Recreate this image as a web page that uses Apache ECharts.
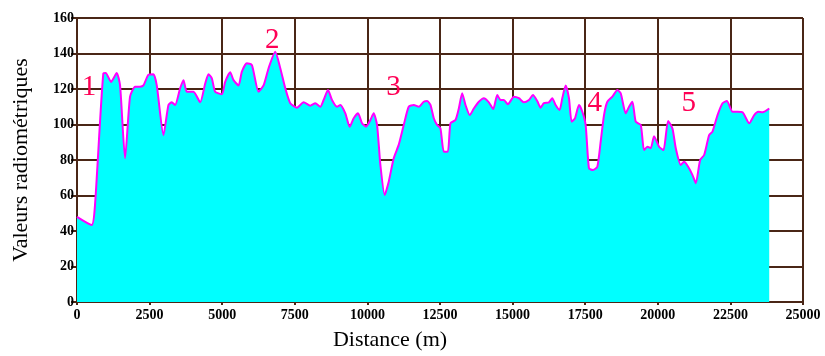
<!DOCTYPE html>
<html>
<head>
<meta charset="utf-8">
<script src="https://cdn.jsdelivr.net/npm/echarts@6/dist/echarts.min.js"></script>
<style>
  html, body { margin: 0; padding: 0; background: #fff; }
  #chart { width: 825px; height: 356px; }
</style>
</head>
<body>
<div id="chart"></div>
<script>
// distance along the profile (m)
var distances = [0, 507, 620, 907, 988, 1172, 1368, 1483, 1655, 1827, 2000, 2172, 2287, 2460, 2632, 2747,
  2977, 3149, 3264, 3379, 3551, 3666, 3781, 4011, 4241, 4413, 4528, 4643, 4758, 4988, 5103, 5275,
  5390, 5563, 5678, 5850, 6023, 6252, 6424, 6597, 6827, 7000, 7172, 7344, 7575, 7803, 8034, 8206,
  8378, 8493, 8643, 8781, 8953, 9068, 9240, 9389, 9528, 9678, 9815, 9953, 10102, 10216, 10333, 10447,
  10596, 10734, 10906, 11078, 11251, 11423, 11596, 11768, 11940, 12057, 12171, 12286, 12401, 12516, 12631, 12769,
  12861, 13033, 13148, 13263, 13378, 13527, 13665, 13838, 14010, 14182, 14333, 14471, 14585, 14700, 14838, 15045,
  15217, 15389, 15562, 15700, 15850, 15964, 16079, 16251, 16367, 16481, 16619, 16711, 16826, 16941, 17033, 17148,
  17286, 17401, 17516, 17630, 17768, 17918, 18033, 18148, 18263, 18436, 18609, 18723, 18895, 19010, 19126, 19240,
  19413, 19526, 19643, 19757, 19871, 20044, 20195, 20354, 20505, 20619, 20791, 20906, 21045, 21195, 21309, 21458,
  21596, 21768, 21884, 22057, 22229, 22378, 22574, 22746, 22919, 23148, 23320, 23458, 23609, 23837];
// radiometric values
var values = [48, 43.4, 54.6, 128.8, 129, 124, 129, 122, 81, 115.7, 121.3, 121.3, 122, 128, 128.3, 122,
  94, 111, 112.5, 111, 120.4, 125, 118.5, 118.5, 112.5, 123, 128.3, 126, 118.5, 117, 124, 129.4,
  125, 122, 129.8, 134.5, 133.5, 118.5, 122, 131.7, 141, 131.7, 120.4, 112, 109.5, 112.5, 110.6, 112,
  110, 113.8, 119.4, 113.8, 110, 111, 106.3, 98.8, 103.5, 106.3, 100.7, 98.8, 102.5, 106.3, 99.7, 77.2,
  60.3, 67.8, 81, 88.5, 99.7, 110, 111, 110, 112.8, 113.2, 111, 103.5, 99.7, 97.8, 84.7, 84.7,
  100.7, 102.5, 109, 117.6, 111, 105.3, 109, 112.8, 114.8, 112.5, 108.7, 116.6, 113.8, 113.8, 111.4, 115.7,
  114.8, 112.5, 113.8, 116.6, 113.2, 109.5, 112, 112.5, 114.8, 111, 108.2, 114.8, 122, 114.8, 101.6, 103.5,
  111, 107.2, 99.7, 75.3, 74.4, 76.2, 90.3, 105.3, 112.8, 115.7, 119.4, 117.6, 106.3, 110, 112.8, 101.6,
  99.7, 85.6, 87.5, 86.6, 93.4, 87.5, 85.6, 102, 97.8, 86.6, 77.2, 79, 76.2, 71.5, 66.9, 80,
  82.8, 94, 96, 105.3, 112, 113.2, 107.2, 107.2, 106.9, 100.7, 105.3, 107.2, 106.9, 109];
// numbered anomaly markers: [distance, value, text]
var markers = [[414, 121, '1'], [6724, 147.6, '2'], [10896, 121, '3'], [17826, 112, '4'], [21067, 112, '5']];

var brown = '#4a2616';
var serif = 'Liberation Serif';

var chart = echarts.init(document.getElementById('chart'));
var points = distances.map(function (d, i) { return [d, values[i]]; });

var option = {
  animation: false,
  grid: { left: 77, right: 22, top: 18, bottom: 54, outerBoundsMode: 'none' },
  xAxis: {
    type: 'value',
    min: 0,
    max: 25000,
    interval: 2500,
    name: 'Distance (m)',
    nameLocation: 'middle',
    nameGap: 27,
    nameTextStyle: { fontFamily: serif, fontSize: 22, color: '#000', padding: [0, 100, 0, 0] },
    axisLine: { lineStyle: { color: brown, width: 2 } },
    axisTick: { length: 3, lineStyle: { color: brown, width: 2 } },
    axisLabel: {
      fontFamily: serif, fontWeight: 'bold', fontSize: 14, color: '#000', margin: 6,
      formatter: function (v) { return String(v); }
    },
    splitLine: { lineStyle: { color: brown, width: 2 } }
  },
  yAxis: {
    type: 'value',
    min: 0,
    max: 160,
    interval: 20,
    name: 'Valeurs radiométriques',
    nameLocation: 'middle',
    nameGap: 45,
    nameTextStyle: { fontFamily: serif, fontSize: 22, color: '#000' },
    axisLine: { show: true, lineStyle: { color: brown, width: 2 } },
    axisTick: { show: true, length: 6, lineStyle: { color: brown, width: 2 } },
    axisLabel: { fontFamily: serif, fontWeight: 'bold', fontSize: 14, color: '#000', margin: 3 },
    splitLine: { lineStyle: { color: brown, width: 2 } }
  },
  series: [{
    type: 'line',
    data: points,
    showSymbol: false,
    smooth: 0.2,
    lineStyle: { color: '#ff00ff', width: 2 },
    areaStyle: { color: '#00ffff', opacity: 1 }
  }, {
    type: 'scatter',
    data: markers.map(function (m) { return { value: [m[0], m[1]], name: m[2] }; }),
    symbolSize: 2,
    itemStyle: { color: 'transparent' },
    silent: true,
    z: 5,
    label: {
      show: true, position: 'inside', formatter: '{b}', opacity: 1,
      fontFamily: serif, fontSize: 29, color: '#ff0055'
    }
  }]
};

chart.setOption(option);
</script>
</body>
</html>
